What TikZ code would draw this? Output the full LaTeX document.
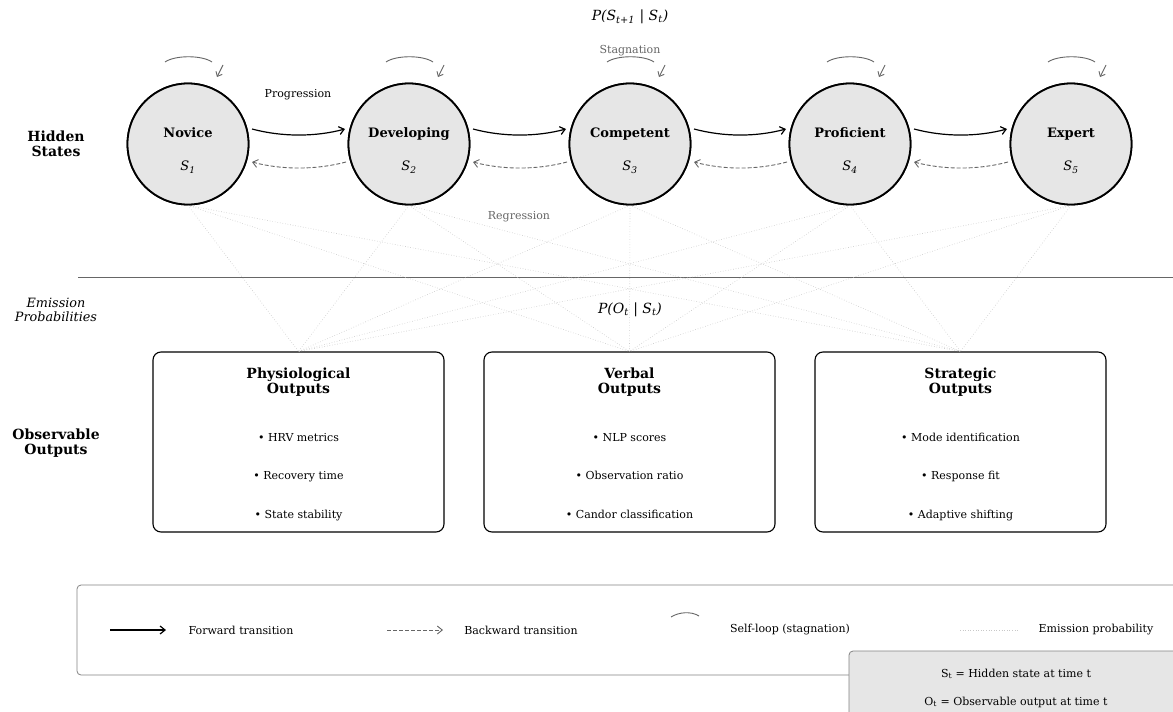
\documentclass[tikz,border=0pt]{standalone}
\usepackage{fontspec}
\setmainfont{DejaVu Serif}
\usetikzlibrary{arrows.meta}
\definecolor{stategray}{HTML}{E6E6E6}
\definecolor{loopgray}{HTML}{666666}
\definecolor{emitgray}{HTML}{C8C8C8}
\tikzset{
  statec/.style={circle,draw=black,line width=1.8pt,fill=stategray,minimum size=121pt,inner sep=0pt},
  sname/.style={font=\fontsize{13}{15}\selectfont\bfseries,anchor=base},
  ssub/.style={font=\fontsize{13}{15}\selectfont\itshape,anchor=base},
  fwd/.style={draw=black,line width=1.2pt,-{Straight Barb[length=5pt,width=8pt,line width=1.2pt]}},
  bwd/.style={draw=loopgray,line width=0.9pt,dash pattern=on 4pt off 2pt,-{Straight Barb[length=5pt,width=8pt,line width=0.9pt]}},
  loopc/.style={draw=loopgray,line width=0.9pt},
  looparr/.style={draw=loopgray,line width=0.9pt,-{Straight Barb[length=4pt,width=7pt,line width=0.9pt]}},
  emit/.style={draw=emitgray,line width=0.6pt,dotted},
  outbox/.style={draw=black,line width=1.1pt,rounded corners=8pt,minimum width=291pt,minimum height=180pt,inner sep=0pt},
  btitle/.style={font=\fontsize{14}{15.5}\selectfont\bfseries,align=center},
  bitem/.style={font=\fontsize{11}{13}\selectfont,anchor=base},
  side/.style={font=\fontsize{14}{15.5}\selectfont\bfseries,align=center},
  sidei/.style={font=\fontsize{12.8}{14}\selectfont\itshape,align=center},
  small/.style={font=\fontsize{11}{13}\selectfont},
  smallg/.style={font=\fontsize{11}{13}\selectfont,text=loopgray},
  probl/.style={font=\fontsize{14}{16}\selectfont\itshape},
}
\begin{document}
\begin{tikzpicture}[x=1pt,y=-1pt]
\useasboundingbox (0,0) rectangle (1173,712);
\clip (0,0) rectangle (1173,712);
\fill[white] (0,0) rectangle (1173,712);

% top probability label
\node[probl] (ptrans) at (630,17) {P(S\textsubscript{t+1} | S\textsubscript{t})};

% side labels
\node[side] (hid) at (56,144) {Hidden\\States};
\node[sidei] (emi) at (56,310) {Emission\\Probabilities};
\node[side] (obs) at (56,443) {Observable\\Outputs};

% separator
\draw[draw=loopgray,line width=0.8pt] (78,277) coordinate (sepL) -- (1173,277) coordinate (sepR);

\node[probl] (pemit) at (630,310) {P(O\textsubscript{t} | S\textsubscript{t})};

% boxes
\node[outbox] (b1) at (298.5,442) {};
\node[outbox] (b2) at (629.5,442) {};
\node[outbox] (b3) at (960.5,442) {};

% states
\foreach \i/\x/\nm in {1/188/Novice,2/409/Developing,3/630/Competent,4/850/Proficient,5/1071/Expert}{
  \node[statec] (n\i) at (\x,144) {};
}
% emissions
\foreach \i in {1,...,5}{
  \foreach \j in {1,2,3}{
    \draw[emit] (n\i.south) -- (b\j.north);
  }
}
% redraw states on top
\foreach \i/\x/\nm in {1/188/Novice,2/409/Developing,3/630/Competent,4/850/Proficient,5/1071/Expert}{
  \node[statec] (m\i) at (\x,144) {};
  \node[sname] (t\i) at (\x,137.8) {\nm};
  \node[ssub] (s\i) at (\x,170.5) {S\textsubscript{\i}};
  \draw[loopc] ([shift={(-23,-82)}]n\i.center) .. controls +(10,-7) and +(-10,-7) .. ([shift={(24,-82)}]n\i.center);
  \draw[looparr] ([shift={(35,-79)}]n\i.center) -- ([shift={(29,-67)}]n\i.center);
}
% transitions
\foreach \a/\b in {1/2,2/3,3/4,4/5}{
  \draw[fwd] ([shift={(64,-15)}]n\a.center) .. controls +(30,8) and +(-30,8) .. ([shift={(-64,-15)}]n\b.center);
  \draw[bwd] ([shift={(-63,18)}]n\b.center) .. controls +(-30,8) and +(30,8) .. ([shift={(64,18)}]n\a.center);
}
\node[small] (prog) at (298,95) {Progression};
\node[smallg] (stag) at (630,51) {Stagnation};
\node[smallg] (regr) at (519,217) {Regression};

% box contents
\node[btitle] (h1) at (298.5,382) {Physiological\\Outputs};
\node[bitem] (i11) at (298.5,441) {• HRV metrics};
\node[bitem] (i12) at (298.5,479) {• Recovery time};
\node[bitem] (i13) at (298.5,518) {• State stability};
\node[btitle] (h2) at (629.5,382) {Verbal\\Outputs};
\node[bitem] (i21) at (629.5,441) {• NLP scores};
\node[bitem] (i22) at (629.5,479) {• Observation ratio};
\node[bitem] (i23) at (629.5,518) {• Candor classification};
\node[btitle] (h3) at (960.5,382) {Strategic\\Outputs};
\node[bitem] (i31) at (960.5,441) {• Mode identification};
\node[bitem] (i32) at (960.5,479) {• Response fit};
\node[bitem] (i33) at (960.5,518) {• Adaptive shifting};

% legend
\draw[draw=loopgray!80,line width=0.8pt,rounded corners=4pt] (77,585) rectangle (1200,675);
\coordinate (l1a) at (110,630); \coordinate (l1b) at (166,630);
\draw[fwd] (l1a) -- (l1b);
\node[small] (l1t) at (241,630) {Forward transition};
\coordinate (l2a) at (387,630); \coordinate (l2b) at (443,630);
\draw[bwd] (l2a) -- (l2b);
\node[small] (l2t) at (521,630) {Backward transition};
\coordinate (l3a) at (671,617); \coordinate (l3b) at (699,616);
\draw[loopc] (l3a) .. controls +(8,-5) and +(-8,-5) .. (l3b);
\node[small] (l3t) at (790,630) {Self-loop (stagnation)};
\coordinate (l4a) at (960,630); \coordinate (l4b) at (1018,630);
\draw[emit] (l4a) -- (l4b);
\node[small] (l4t) at (1096,630) {Emission probability};

% notation box
\draw[draw=loopgray!80,line width=0.8pt,fill=stategray,rounded corners=4pt] (849,651) rectangle (1200,740);
\node[small] (nt1) at (1016,674) {S\textsubscript{t} = Hidden state at time t};
\node[small] (nt2) at (1016,702) {O\textsubscript{t} = Observable output at time t};
\end{tikzpicture}
\end{document}
